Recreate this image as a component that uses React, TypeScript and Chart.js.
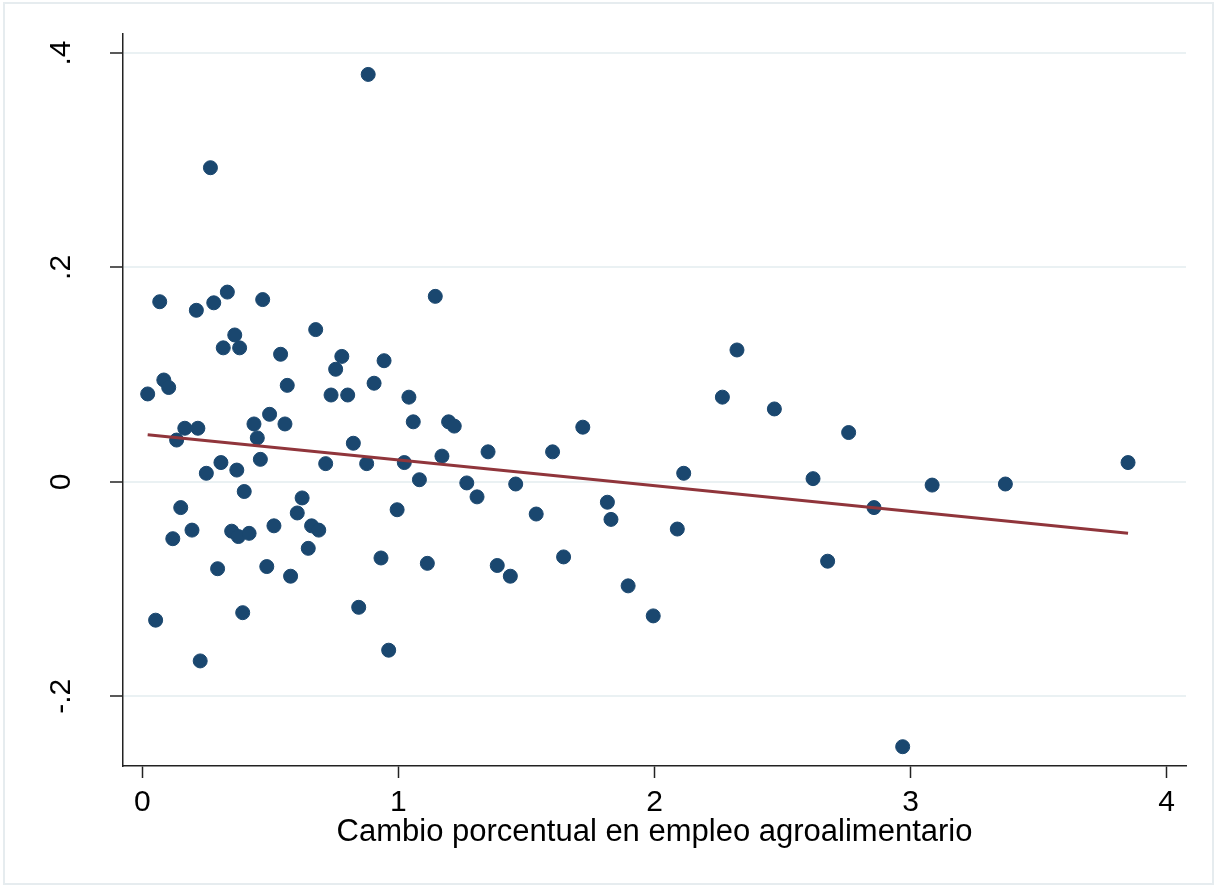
import React, { useEffect, useRef } from "react";
import { Chart, registerables } from "chart.js";

Chart.register(...registerables);

// Scatter data: x = cambio porcentual en empleo agroalimentario, y = outcome
const xValues = [
  0.882, 0.266, 0.068, 0.211, 0.279, 0.332, 0.470, 1.144, 0.677, 0.361,
  0.316, 0.380, 0.540, 0.779, 0.755, 0.944, 2.322, 0.084, 0.103, 0.021,
  0.566, 0.737, 0.802, 0.905, 1.041, 2.265, 0.497, 0.436, 0.557, 0.166,
  0.217, 1.058, 1.196, 1.218, 1.720, 2.468, 2.758, 0.134, 0.449, 0.824,
  1.170, 1.350, 1.602, 0.461, 3.849, 0.307, 0.250, 0.369, 0.716, 0.876,
  1.023, 1.082, 1.267, 1.458, 2.114, 2.619, 3.084, 3.370, 0.398, 0.624,
  0.605, 0.995, 1.307, 1.816, 1.538, 1.830, 2.857, 0.150, 0.194, 0.119,
  0.349, 0.375, 0.417, 0.514, 0.661, 0.689, 0.648, 0.932, 0.294, 0.486,
  0.579, 1.113, 1.386, 1.437, 1.645, 2.089, 2.676, 1.897, 1.995, 0.052,
  0.392, 0.845, 0.226, 0.962, 2.969,
];
const yValues = [
  0.380, 0.293, 0.168, 0.160, 0.167, 0.177, 0.170, 0.173, 0.142, 0.137,
  0.125, 0.125, 0.119, 0.117, 0.105, 0.113, 0.123, 0.095, 0.088, 0.082,
  0.090, 0.081, 0.081, 0.092, 0.079, 0.079, 0.063, 0.054, 0.054, 0.050,
  0.050, 0.056, 0.056, 0.052, 0.051, 0.068, 0.046, 0.039, 0.041, 0.036,
  0.024, 0.028, 0.028, 0.021, 0.018, 0.018, 0.008, 0.011, 0.017, 0.017,
  0.018, 0.002, -0.001, -0.002, 0.008, 0.003, -0.003, -0.002, -0.009, -0.015,
  -0.029, -0.026, -0.014, -0.019, -0.030, -0.035, -0.024, -0.024, -0.045, -0.053,
  -0.046, -0.051, -0.048, -0.041, -0.041, -0.045, -0.062, -0.071, -0.081, -0.079,
  -0.088, -0.076, -0.078, -0.088, -0.070, -0.044, -0.074, -0.097, -0.125, -0.129,
  -0.122, -0.117, -0.167, -0.157, -0.247,
];

// Fitted line end points
const fitX = [0.021, 3.849];
const fitY = [0.044, -0.048];

const xTicks = [0, 1, 2, 3, 4];
const xTickLabels = ["0", "1", "2", "3", "4"];
const yTicks = [-0.2, 0, 0.2, 0.4];
const yTickLabels = ["-.2", "0", ".2", ".4"];
const xTitle = "Cambio porcentual en empleo agroalimentario";

const FONT = "'Liberation Sans', Arial, Helvetica, sans-serif";

export default function App() {
  const ref = useRef<HTMLCanvasElement | null>(null);

  useEffect(() => {
    document.body.style.margin = "0";
    const canvas = ref.current;
    if (!canvas) return;
    Chart.defaults.font.family = FONT;

    const framePlugin = {
      id: "frame",
      beforeDraw(chart: any) {
        const c = chart.ctx;
        c.save();
        c.fillStyle = "#ffffff";
        c.fillRect(0, 0, chart.width, chart.height);
        c.strokeStyle = "#e6ecef";
        c.lineWidth = 2;
        c.strokeRect(4, 3, chart.width - 7, chart.height - 5);
        c.restore();
      },
    };

    const chart = new Chart(canvas, {
      type: "scatter",
      data: {
        datasets: [
          {
            type: "line",
            data: fitX.map((x, i) => ({ x, y: fitY[i] })),
            borderColor: "#90353b",
            borderWidth: 3,
            pointRadius: 0,
            fill: false,
            order: 0,
          } as any,
          {
            type: "scatter",
            data: xValues.map((x, i) => ({ x, y: yValues[i] })),
            backgroundColor: "#1a476f",
            borderColor: "#1a476f",
            borderWidth: 1,
            pointRadius: 7,
            order: 1,
          } as any,
        ],
      },
      options: {
        responsive: false,
        animation: false,
        devicePixelRatio: 1,
        layout: { padding: { left: 0, right: 30, top: 34, bottom: 0 } },
        plugins: { legend: { display: false }, tooltip: { enabled: false } },
        scales: {
          x: {
            type: "linear",
            min: -0.0754,
            max: 4.0753,
            afterBuildTicks: (s: any) => {
              s.ticks = xTicks.map((v) => ({ value: v }));
            },
            afterFit: (s: any) => {
              s.height = 120;
              s.paddingLeft = 0;
              s.paddingRight = 0;
            },
            grid: {
              drawOnChartArea: false,
              drawTicks: true,
              tickLength: 12,
              tickColor: "#222222",
              tickWidth: 1.5,
            },
            border: { display: true, color: "#222222", width: 1.5 },
            ticks: {
              color: "#000000",
              font: { size: 30 },
              padding: 7,
              maxRotation: 0,
              autoSkip: false,
              callback: (v: any) => xTickLabels[xTicks.indexOf(Number(v))],
            },
            title: {
              display: true,
              text: xTitle,
              color: "#000000",
              font: { size: 31 },
              padding: { top: 0, bottom: 35 },
            },
          },
          y: {
            type: "linear",
            min: -0.265,
            max: 0.4177,
            afterBuildTicks: (s: any) => {
              s.ticks = yTicks.map((v) => ({ value: v }));
            },
            afterFit: (s: any) => {
              s.width = 123;
              s.paddingTop = 0;
              s.paddingBottom = 0;
            },
            grid: {
              color: "#eaf1f3",
              lineWidth: 2,
              drawTicks: true,
              tickLength: 13,
              tickColor: "#222222",
              tickWidth: 1.5,
            },
            border: { display: true, color: "#222222", width: 1.5 },
            ticks: {
              color: "#000000",
              font: { size: 30 },
              padding: 31,
              minRotation: 90,
              maxRotation: 90,
              crossAlign: "center",
              autoSkip: false,
              callback: (v: any) => yTickLabels[yTicks.indexOf(Number(v))],
            },
          },
        },
      } as any,
      plugins: [framePlugin],
    });

    return () => chart.destroy();
  }, []);

  return (
    <div style={{ position: "absolute", left: 0, top: 0, width: 1216, height: 886 }}>
      <canvas ref={ref} width={1216} height={886} style={{ display: "block" }} />
    </div>
  );
}
